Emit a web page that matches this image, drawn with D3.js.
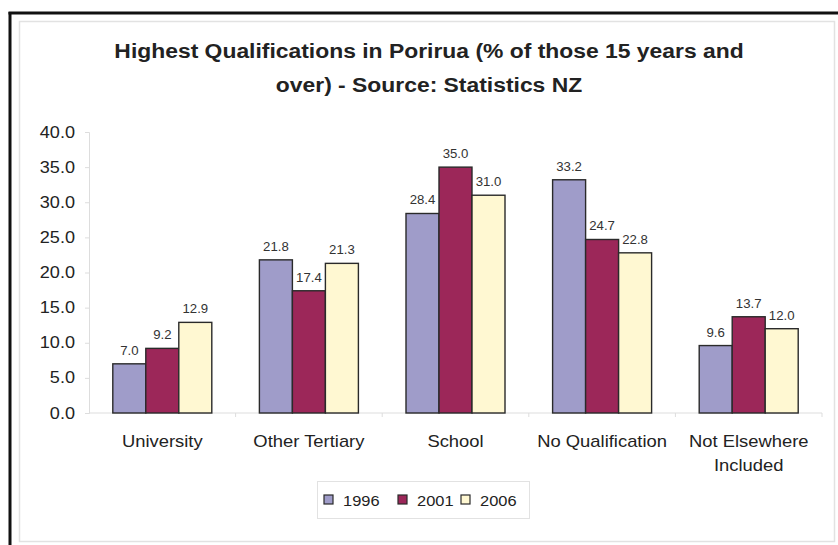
<!DOCTYPE html>
<html lang="en">
<head>
<meta charset="UTF-8"/>
<title>Highest Qualifications in Porirua</title>
<script src="https://d3js.org/d3.v7.min.js"></script>
<style>
	body { margin: 0; background: #ffffff; }
	text { font-family: "Liberation Sans", Arial, sans-serif; fill: #222; }
	.title { font-weight: bold; font-size: 21px; }
	.tick { font-size: 16px; }
	.val { font-size: 12px; fill: #333; }
	.cat { font-size: 16px; }
	.leg { font-size: 15.5px; }
</style>
</head>
<body>
<div id="chart"></div>
<script>
// data
var categories = ["University", "Other Tertiary", "School", "No Qualification", "Not Elsewhere Included"];
var catLines = [["University"], ["Other Tertiary"], ["School"], ["No Qualification"], ["Not Elsewhere", "Included"]];
var years = ["1996", "2001", "2006"];
var v1996 = [7.0, 21.8, 28.4, 33.2, 9.6];
var v2001 = [9.2, 17.4, 35.0, 24.7, 13.7];
var v2006 = [12.9, 21.3, 31.0, 22.8, 12.0];
var yTicks = [0, 5, 10, 15, 20, 25, 30, 35, 40];
var colours = ["#9f9cc9", "#9c2759", "#fff8d2"];

var series = [v1996, v2001, v2006];
var w = 838, h = 545;
var plot = {left: 89, right: 822, top: 132, bottom: 413};
var fmt = d3.format(".1f");

var svg = d3.select("#chart").append("svg")
	.attr("width", w).attr("height", h);

// the source picture is a bit wider than tall, so text gets stretched sideways
function wideText(parent, cls, x, y, sx, anchor, lines) {
	var t = parent.append("text").attr("class", cls)
		.attr("transform", "translate(" + x + "," + y + ") scale(" + sx + ",1)")
		.attr("text-anchor", anchor);
	lines.forEach(function(line, k){
		t.append("tspan").attr("x", 0).attr("dy", k === 0 ? 0 : 24).text(line);
	});
	return t;
}

// frame
svg.append("rect").attr("x", 19.5).attr("y", 21.5).attr("width", 815).attr("height", 520)
	.attr("fill", "#fff").attr("stroke", "#e2e2e2").attr("stroke-width", 1.5);
svg.append("line").attr("x1", 10).attr("y1", 12).attr("x2", 10).attr("y2", h)
	.attr("stroke", "#111").attr("stroke-width", 3);
svg.append("line").attr("x1", 8.5).attr("y1", 13).attr("x2", w).attr("y2", 13)
	.attr("stroke", "#111").attr("stroke-width", 3);

// title
wideText(svg, "title", 429, 58, 1.09, "middle", ["Highest Qualifications in Porirua (% of those 15 years and"]);
wideText(svg, "title", 429, 92, 1.09, "middle", ["over) - Source: Statistics NZ"]);

var xScale = d3.scaleBand().domain(categories).range([plot.left, plot.right]);
var groupW = 99;
var xInner = d3.scaleBand().domain(years).range([0, groupW]);
var yScale = d3.scaleLinear().domain([0, 40]).range([plot.bottom, plot.top]);

// y axis (labels drawn separately so they can be stretched)
var yAxis = d3.axisLeft(yScale).tickValues(yTicks).tickFormat("").tickSize(4);
var gy = svg.append("g").attr("transform", "translate(" + plot.left + ",0)").call(yAxis);
gy.select(".domain").attr("stroke", "#ddd");
gy.selectAll(".tick line").attr("stroke", "#ddd");
yTicks.forEach(function(t){
	wideText(svg, "tick", 75, yScale(t) + 5.5, 1.13, "end", [fmt(t)]);
});

// x axis line + tick marks at category boundaries
svg.append("line").attr("x1", plot.left).attr("x2", plot.right)
	.attr("y1", plot.bottom).attr("y2", plot.bottom).attr("stroke", "#ddd");
svg.selectAll(".xtick").data(categories).enter().append("line")
	.attr("x1", function(d){ return xScale(d) + xScale.bandwidth(); })
	.attr("x2", function(d){ return xScale(d) + xScale.bandwidth(); })
	.attr("y1", plot.bottom).attr("y2", plot.bottom + 4).attr("stroke", "#ddd");

// bars
var groups = svg.selectAll(".grp").data(categories).enter().append("g")
	.attr("transform", function(d){
		return "translate(" + (xScale(d) + (xScale.bandwidth() - groupW) / 2) + ",0)";
	});

groups.each(function(cat, i){
	var g = d3.select(this);
	years.forEach(function(yr, j){
		var v = series[j][i];
		g.append("rect")
			.attr("x", xInner(yr))
			.attr("y", yScale(v))
			.attr("width", xInner.bandwidth())
			.attr("height", yScale(0) - yScale(v))
			.attr("fill", colours[j])
			.attr("stroke", "#2a2a2a").attr("stroke-width", 1.4);
		wideText(g, "val", xInner(yr) + xInner.bandwidth() / 2, yScale(v) - 9, 1.1, "middle", [fmt(v)]);
	});
});

// category labels
categories.forEach(function(cat, i){
	wideText(svg, "cat", xScale(cat) + xScale.bandwidth() / 2, 447, 1.15, "middle", catLines[i]);
});

// legend
svg.append("rect").attr("x", 317.5).attr("y", 481.5).attr("width", 212).attr("height", 37)
	.attr("fill", "#fff").attr("stroke", "#e2e2e2");
var legX = [324, 398, 461];
years.forEach(function(yr, j){
	svg.append("rect").attr("x", legX[j]).attr("y", 495).attr("width", 9).attr("height", 9)
		.attr("fill", colours[j]).attr("stroke", "#2a2a2a").attr("stroke-width", 1.2);
	wideText(svg, "leg", legX[j] + 19, 505.5, 1.06, "start", [yr]);
});
</script>
</body>
</html>
